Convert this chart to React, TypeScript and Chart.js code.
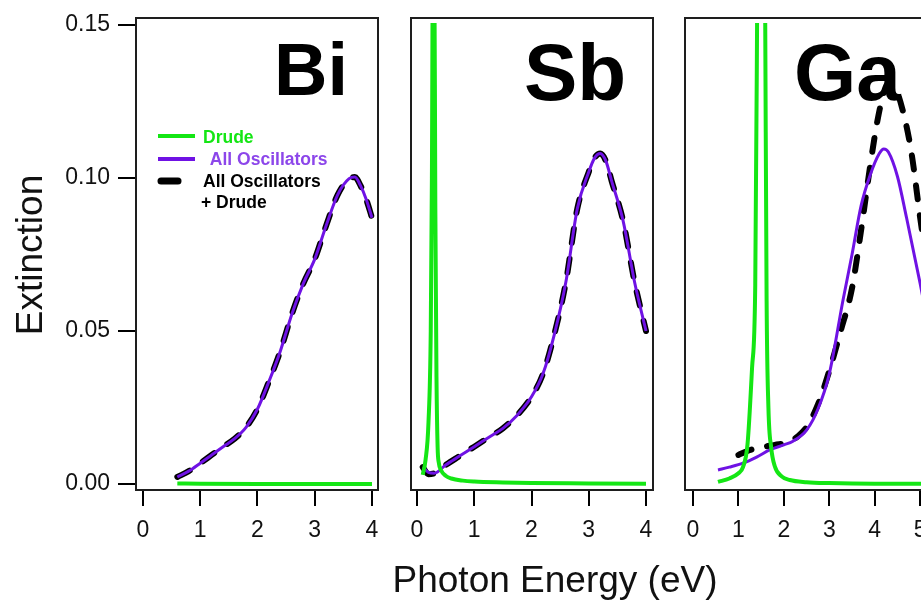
import React, { useEffect, useRef } from 'react';
import { Chart, registerables } from 'chart.js';

Chart.register(...registerables);

const FONT = '"Liberation Sans", Arial, Helvetica, sans-serif';
const GREEN = '#14e614';
const PURPLE = '#6f12e4';
const PURPLE_TEXT = '#8c46ea';
const BLACK = '#000000';

// ---- tick values / labels ----
const yTicks = [0, 0.05, 0.1, 0.15];
const yTickLabels = ['0.00', '0.05', '0.10', '0.15'];
const biXTicks = [0, 1, 2, 3, 4];
const sbXTicks = [0, 1, 2, 3, 4];
const gaXTicks = [0, 1, 2, 3, 4, 5];

// ---- texts ----
const panelLabels = ['Bi', 'Sb', 'Ga'];
const legendLabels = ['Drude', ' All Oscillators', 'All Oscillators', '+ Drude'];
const yTitle = 'Extinction';
const xTitle = 'Photon Energy (eV)';

// ---- Bi ----
const biDrudeX = [0.6, 1.0, 2.0, 3.0, 4.0];
const biDrude = [0.0002, 0.0001, 0.0, 0.0, 0.0];
const biX = [0.6, 0.8, 1.0, 1.2, 1.4, 1.6, 1.8, 2.0, 2.2, 2.4, 2.6, 2.8, 3.0, 3.2, 3.4, 3.6, 3.7, 3.8, 3.9, 4.0];
const biOsc = [0.0023, 0.0042, 0.0068, 0.0095, 0.0122, 0.0148, 0.0185, 0.0245, 0.0335, 0.0435, 0.0555, 0.0655, 0.0735, 0.0845, 0.0945, 0.0998, 0.1003, 0.0975, 0.093, 0.087];
const biTotal = [0.0023, 0.0042, 0.0068, 0.0095, 0.0122, 0.0148, 0.0185, 0.0245, 0.0335, 0.0435, 0.0555, 0.0655, 0.0735, 0.0845, 0.0945, 0.0998, 0.1003, 0.0975, 0.093, 0.087];

// ---- Sb ----
const sbDrudeX = [0.1, 0.15, 0.2, 0.24, 0.26, 0.28, 0.3, 0.32, 0.34, 0.36, 0.38, 0.42, 0.5, 0.6, 0.8, 1.0, 1.5, 2.0, 3.0, 4.0];
const sbDrude = [0.003, 0.008, 0.02, 0.05, 0.1, 0.18, 0.18, 0.09, 0.035, 0.012, 0.007, 0.0045, 0.0027, 0.0018, 0.0011, 0.0008, 0.0005, 0.0003, 0.0002, 0.0001];
const sbX = [0.1, 0.2, 0.3, 0.5, 0.75, 1.0, 1.25, 1.5, 1.75, 2.0, 2.2, 2.4, 2.6, 2.8, 3.0, 3.1, 3.2, 3.3, 3.4, 3.6, 3.8, 4.0];
const sbOsc = [0.0055, 0.0038, 0.0035, 0.0062, 0.0092, 0.0122, 0.0152, 0.0182, 0.0225, 0.0285, 0.036, 0.049, 0.066, 0.09, 0.102, 0.1065, 0.108, 0.1055, 0.099, 0.086, 0.066, 0.05];
const sbTotal = [0.0055, 0.0032, 0.0035, 0.0062, 0.0092, 0.0122, 0.0152, 0.0182, 0.0225, 0.0285, 0.036, 0.049, 0.066, 0.09, 0.102, 0.1065, 0.108, 0.1055, 0.099, 0.086, 0.066, 0.05];

// ---- Ga ----
const gaDrudeX = [0.55, 0.8, 1.0, 1.1, 1.2, 1.3, 1.37, 1.41, 1.5, 1.59, 1.62, 1.66, 1.72, 1.8, 1.95, 2.13, 2.5, 3.0, 4.0, 5.2];
const gaDrude = [0.0007, 0.0018, 0.0035, 0.0055, 0.013, 0.038, 0.065, 0.15, 0.4, 0.15, 0.06, 0.025, 0.012, 0.0058, 0.0025, 0.0013, 0.0006, 0.0003, 0.0001, 0.0001];
const gaX = [0.55, 0.8, 1.1, 1.4, 1.7, 2.0, 2.2, 2.5, 2.75, 3.0, 3.3, 3.5, 3.7, 3.9, 4.1, 4.2, 4.3, 4.5, 4.7, 5.0, 5.2];
const gaOsc = [0.0046, 0.0055, 0.0068, 0.0088, 0.0112, 0.0128, 0.014, 0.0176, 0.0245, 0.036, 0.06, 0.075, 0.091, 0.101, 0.108, 0.1095, 0.1085, 0.1005, 0.087, 0.0655, 0.05];
const gaTotX = [1.0, 1.2, 1.5, 1.8, 2.1, 2.3, 2.5, 2.75, 3.0, 3.25, 3.5, 3.7, 3.9, 4.05, 4.2, 4.3, 4.45, 4.6, 4.8, 5.0, 5.2];
const gaTotal = [0.0095, 0.0108, 0.012, 0.0128, 0.0137, 0.0155, 0.0186, 0.026, 0.037, 0.05, 0.064, 0.083, 0.104, 0.118, 0.128, 0.131, 0.1295, 0.123, 0.109, 0.087, 0.066];

const toPts = (xs: number[], ys: number[]) => xs.map((x, i) => ({ x, y: ys[i] }));

type Panel = {
  left: number;
  width: number;
  padLeft: number;
  padRight: number;
  xMin: number;
  xMax: number;
  xTicks: number[];
  showY: boolean;
  drude: { x: number; y: number }[];
  osc: { x: number; y: number }[];
  total: { x: number; y: number }[];
  label: string;
  labelSize: number;
  labelX: number;
  labelY: number;
};

const panels: Panel[] = [
  {
    left: 0, width: 400, padLeft: 0, padRight: 22, xMin: -0.122, xMax: 4.105, xTicks: biXTicks, showY: true,
    drude: toPts(biDrudeX, biDrude), osc: toPts(biX, biOsc), total: toPts(biX, biTotal),
    label: panelLabels[0], labelSize: 74, labelX: 274, labelY: 95,
  },
  {
    left: 390, width: 345, padLeft: 21, padRight: 82, xMin: -0.105, xMax: 4.122, xTicks: sbXTicks, showY: false,
    drude: toPts(sbDrudeX, sbDrude), osc: toPts(sbX, sbOsc), total: toPts(sbX, sbTotal),
    label: panelLabels[1], labelSize: 80, labelX: 524, labelY: 100,
  },
  {
    left: 665, width: 300, padLeft: 20, padRight: 38, xMin: -0.176, xMax: 5.15, xTicks: gaXTicks, showY: false,
    drude: toPts(gaDrudeX, gaDrude), osc: toPts(gaX, gaOsc), total: toPts(gaTotX, gaTotal),
    label: panelLabels[2], labelSize: 80, labelX: 794, labelY: 100,
  },
];

function makeDecor(index: number, p: Panel) {
  return {
    id: 'decor' + index,
    afterDraw(chart: any) {
      const ctx: CanvasRenderingContext2D = chart.ctx;
      const ca = chart.chartArea;
      const ox = p.left;
      ctx.save();
      // frame
      ctx.strokeStyle = '#1e1e1e';
      ctx.lineWidth = 2;
      ctx.strokeRect(ca.left, ca.top, ca.right - ca.left, ca.bottom - ca.top);
      // panel label
      ctx.fillStyle = '#000';
      ctx.font = `bold ${p.labelSize}px ${FONT}`;
      ctx.textAlign = 'left';
      ctx.textBaseline = 'alphabetic';
      ctx.fillText(p.label, p.labelX - ox, p.labelY);

      if (index === 0) {
        // y title
        ctx.save();
        ctx.translate(42, 255);
        ctx.rotate(-Math.PI / 2);
        ctx.font = `37px ${FONT}`;
        ctx.textAlign = 'center';
        ctx.fillStyle = '#111';
        ctx.fillText(yTitle, 0, 0);
        ctx.restore();

        // legend
        ctx.lineCap = 'butt';
        ctx.lineWidth = 4;
        ctx.strokeStyle = GREEN;
        ctx.beginPath();
        ctx.moveTo(158, 136);
        ctx.lineTo(195, 136);
        ctx.stroke();
        ctx.strokeStyle = PURPLE;
        ctx.beginPath();
        ctx.moveTo(158, 159);
        ctx.lineTo(195, 159);
        ctx.stroke();
        ctx.strokeStyle = BLACK;
        ctx.lineWidth = 7;
        ctx.lineCap = 'round';
        ctx.beginPath();
        ctx.moveTo(161, 181);
        ctx.lineTo(178, 181);
        ctx.stroke();

        ctx.font = `bold 17.5px ${FONT}`;
        ctx.textAlign = 'left';
        ctx.fillStyle = GREEN;
        ctx.fillText(legendLabels[0], 203, 143);
        ctx.fillStyle = PURPLE_TEXT;
        ctx.fillText(legendLabels[1], 205, 165);
        ctx.fillStyle = '#000';
        ctx.fillText(legendLabels[2], 203, 187);
        ctx.fillText(legendLabels[3], 201, 208);
      }
      if (index === 1) {
        ctx.font = `37px ${FONT}`;
        ctx.textAlign = 'center';
        ctx.fillStyle = '#111';
        ctx.fillText(xTitle, 555 - ox, 592);
      }
      ctx.restore();
    },
  };
}

function makeConfig(index: number, p: Panel): any {
  const clip = { left: 0, top: -5, right: 0, bottom: 0 };
  return {
    type: 'line',
    data: {
      datasets: [
        { label: 'Drude', data: p.drude, borderColor: GREEN, borderWidth: 4, clip },
        { label: 'All Oscillators', data: p.osc, borderColor: PURPLE, borderWidth: 3, clip },
        {
          label: 'All Oscillators + Drude', data: p.total, borderColor: BLACK, borderWidth: 6,
          borderDash: [14, 16], borderCapStyle: 'round', clip,
        },
      ],
    },
    options: {
      responsive: false,
      maintainAspectRatio: false,
      animation: false,
      events: [],
      layout: { padding: { left: p.padLeft, right: p.padRight, top: 18, bottom: 0 } },
      elements: {
        point: { radius: 0 },
        line: { cubicInterpolationMode: 'monotone', tension: 0.4, capBezierPoints: false, fill: false },
      },
      plugins: { legend: { display: false }, tooltip: { enabled: false }, title: { display: false } },
      scales: {
        x: {
          type: 'linear',
          min: p.xMin,
          max: p.xMax,
          afterFit: (s: any) => { s.height = 110; s.paddingLeft = 0; s.paddingRight = 0; },
          afterBuildTicks: (s: any) => { s.ticks = p.xTicks.map((v) => ({ value: v })); },
          ticks: {
            autoSkip: false,
            maxRotation: 0,
            padding: 11,
            color: '#111',
            font: { family: FONT, size: 23 },
            callback: (v: any) => String(v),
          },
          grid: { drawOnChartArea: false, color: '#000', lineWidth: 2, tickLength: 16 },
          border: { display: false },
        },
        y: {
          type: 'linear',
          display: p.showY,
          min: -0.00196,
          max: 0.1523,
          afterFit: (s: any) => { s.width = p.showY ? 136 : 0; s.paddingTop = 0; s.paddingBottom = 0; },
          afterBuildTicks: (s: any) => { s.ticks = yTicks.map((v) => ({ value: v })); },
          ticks: {
            autoSkip: false,
            padding: 8,
            color: '#111',
            font: { family: FONT, size: 23 },
            callback: (v: any) => {
              const i = yTicks.indexOf(v);
              return i >= 0 ? yTickLabels[i] : '';
            },
          },
          grid: { drawOnChartArea: false, color: '#000', lineWidth: 2, tickLength: 18 },
          border: { display: false },
        },
      },
    },
    plugins: [makeDecor(index, p)],
  };
}

export default function App() {
  const r0 = useRef<HTMLCanvasElement | null>(null);
  const r1 = useRef<HTMLCanvasElement | null>(null);
  const r2 = useRef<HTMLCanvasElement | null>(null);

  useEffect(() => {
    const refs = [r0, r1, r2];
    const charts = panels.map((p, i) => new Chart(refs[i].current as HTMLCanvasElement, makeConfig(i, p)));
    return () => charts.forEach((c) => c.destroy());
  }, []);

  const refs = [r0, r1, r2];
  return (
    <div style={{ position: 'fixed', left: 0, top: 0, width: 921, height: 600, overflow: 'hidden', background: '#fff' }}>
      {panels.map((p, i) => (
        <canvas
          key={i}
          ref={refs[i]}
          width={p.width}
          height={600}
          style={{ position: 'absolute', left: p.left, top: 0, width: p.width, height: 600 }}
        />
      ))}
    </div>
  );
}
